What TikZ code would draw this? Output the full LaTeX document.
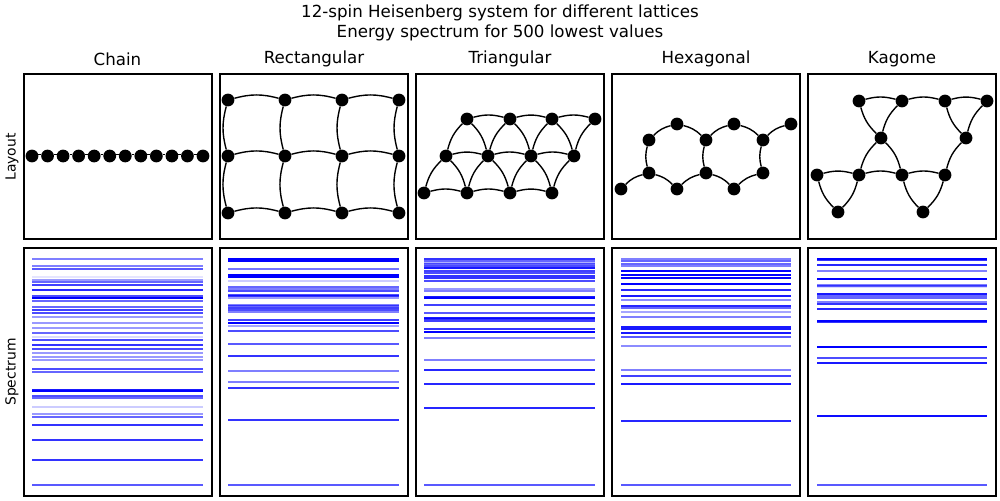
\documentclass[tikz,border=0pt]{standalone}
\usepackage{fontspec}
\setmainfont{DejaVu Sans}
\usetikzlibrary{positioning}
\definecolor{levelblue}{rgb}{0, 0, 1}

\tikzset{
	spin/.style={circle, fill=black, inner sep=0pt, minimum size=9.2pt},
	bond/.style={black, line width=1pt, bend left=15},
	panel/.style={draw=black, line width=0.8pt},
	level/.style={levelblue, line width=1.45pt},
	heading/.style={font=\fontsize{12}{14}\selectfont},
	rowlabel/.style={rotate=90, font=\fontsize{10}{12}\selectfont}
}

\begin{document}
\begin{tikzpicture}[x=0.72pt, y=-0.72pt]
		\useasboundingbox (0,0) rectangle (1000,500);
		
		\node[heading] (sup1) at (500,13) {12-spin Heisenberg system for different lattices};
		\node[heading] (sup2) at (500,33) {Energy spectrum for 500 lowest values};
		
		\node[heading] (tchain) at (117.5,59) {Chain};
		\node[heading] (trect) at (314,59) {Rectangular};
		\node[heading] (ttri) at (510,59) {Triangular};
		\node[heading] (thex) at (706,59) {Hexagonal};
		\node[heading] (tkag) at (902,59) {Kagome};
		
		\node[rowlabel] (llayout) at (12,157) {Layout};
		\node[rowlabel] (lspec) at (12,372) {Spectrum};
		
		\foreach \x in {24,220,416,612,808}{
			\draw[panel] (\x,74) rectangle ++(188,165);
			\draw[panel] (\x,248) rectangle ++(188,248);
		}
		
		% chain
		\foreach \i in {1,...,12}
			\node[spin] (c\i) at ({32+(\i-1)*15.545},156) {};
		\foreach \i [evaluate=\i as \j using int(\i+1)] in {1,...,11}
			\draw[bond] (c\i) to (c\j);
		
		% rectangular
		\foreach \c/\x in {1/228,2/285,3/342,4/399}
			\foreach \r/\y in {1/100,2/156,3/213}
				\node[spin] (r\c\r) at (\x,\y) {};
		\foreach \r in {1,2,3}
			\foreach \c/\d in {1/2,2/3,3/4}
				\draw[bond] (r\c\r) to (r\d\r);
		\foreach \c in {1,2,3,4}{
			\draw[bond] (r\c3) to (r\c2);
			\draw[bond] (r\c2) to (r\c1);
		}
		
		% triangular
		\foreach \i/\x in {1/467,2/510,3/552,4/595}
			\node[spin] (ta\i) at (\x,119) {};
		\foreach \i/\x in {1/446,2/488,3/531,4/574}
			\node[spin] (tb\i) at (\x,156) {};
		\foreach \i/\x in {1/424,2/467,3/510,4/552}
			\node[spin] (tc\i) at (\x,193) {};
		\foreach \i/\j in {1/2,2/3,3/4}{
			\draw[bond] (ta\i) to (ta\j);
			\draw[bond] (tb\i) to (tb\j);
			\draw[bond] (tc\i) to (tc\j);
			\draw[bond] (ta\i) to (tb\j);
			\draw[bond] (tb\i) to (tc\j);
		}
		\foreach \i in {1,...,4}{
			\draw[bond] (tc\i) to (tb\i);
			\draw[bond] (tb\i) to (ta\i);
		}
		
		% hexagonal
		\node[spin] (h1) at (621,189) {};
		\node[spin] (h2) at (649,173) {};
		\node[spin] (h3) at (649,140) {};
		\node[spin] (h4) at (677,124) {};
		\node[spin] (h5) at (706,140) {};
		\node[spin] (h6) at (706,173) {};
		\node[spin] (h7) at (677,189) {};
		\node[spin] (h8) at (734,124) {};
		\node[spin] (h9) at (763,140) {};
		\node[spin] (h10) at (763,173) {};
		\node[spin] (h11) at (734,189) {};
		\node[spin] (h12) at (791,124) {};
		\foreach \a/\b in {h1/h2,h2/h3,h3/h4,h4/h5,h6/h5,h7/h6,h2/h7,h5/h8,h8/h9,h9/h12,h10/h9,h11/h10,h6/h11}
			\draw[bond] (\a) to (\b);
		
		% kagome
		\node[spin] (ka1) at (859,101) {};
		\node[spin] (ka2) at (902,101) {};
		\node[spin] (ka3) at (945,101) {};
		\node[spin] (ka4) at (987,101) {};
		\node[spin] (kb1) at (881,138) {};
		\node[spin] (kb2) at (966,138) {};
		\node[spin] (kc1) at (817,175) {};
		\node[spin] (kc2) at (859,175) {};
		\node[spin] (kc3) at (902,175) {};
		\node[spin] (kc4) at (945,175) {};
		\node[spin] (kd1) at (838,212) {};
		\node[spin] (kd2) at (923,212) {};
		\foreach \a/\b in {ka1/ka2,ka2/ka3,ka3/ka4,kc1/kc2,kc2/kc3,kc3/kc4,kb1/ka1,kb1/ka2,kb2/ka3,kb2/ka4,kc2/kb1,kb1/kc3,kc4/kb2,kd1/kc1,kc2/kd1,kd2/kc3,kc4/kd2}
			\draw[bond] (\a) to (\b);
		
		% spectra
		\foreach \y/\o in {259/.5,265.7/.5,268.7/.65,277/.1,279.7/.4,281.7/.6,284.7/.75,289.7/.85,295.7/.7,297.7/1,300.7/.6,306.7/.6,309.7/.75,312.7/.7,316.7/.4,322.7/.4,327.7/.4,332.7/.6,336.7/.15,339.7/.7,344.7/.8,348.7/.7,352.7/.4,356.7/.4,359.7/.4,368.7/.7,371.7/.6,389.7/.9,391.3/1,395.7/.7,397.7/.6,406.7/.2,413.7/.4,416.7/.6,425/.8,439.7/.8,459.7/.8,484.7/.65}
			\draw[level, draw opacity=\o] (32,\y) -- (203,\y);
		\foreach \y/\o in {259/1,260.5/1,269/.55,275.3/1,276.7/1,280.7/.2,286.7/.6,289.3/.5,290.7/.7,295/.7,296.3/.8,297.7/.4,304.7/.5,306/.6,308.3/.75,310.3/.7,312.3/.5,319.7/.75,322.7/1,325.7/.35,331/.7,343.7/.65,355.7/.8,370.7/.5,381.7/.5,387.7/.8,419.7/.8,484.7/.65}
			\draw[level, draw opacity=\o] (228,\y) -- (399,\y);
		\foreach \y/\o in {259/.8,260.7/.6,262.7/.3,264.3/.6,265.7/.7,267.7/.9,271/.75,273/.7,276/.8,277.7/.8,280.7/.7,288.7/.4,290.7/.5,296.7/.9,297.7/1,304.7/.75,312.7/.65,317.7/.9,319/.8,321/.75,328.7/.8,331.7/1,337.7/.5,359.7/.5,370/.85,383.7/.85,407.7/.85,484.7/.65}
			\draw[level, draw opacity=\o] (424,\y) -- (595,\y);
		\foreach \y/\o in {258.7/.5,260.7/.6,263.7/.6,265.7/.5,270.7/1,274.7/1,277.7/1,283.7/1,289.7/.85,295.7/.9,299.7/.45,305.7/.85,307.7/.6,311.7/.35,316.7/.5,326.7/.9,328.7/.9,333/.9,336.7/.65,345.7/.45,369.7/.5,375.7/.75,383.7/.9,420.7/.85,484.7/.65}
			\draw[level, draw opacity=\o] (621,\y) -- (791,\y);
		\foreach \y/\o in {259/1,260.3/.8,265.3/.85,270.7/.5,278.7/1,284.7/.5,286/.6,287.3/.15,293.7/.9,296.3/.6,297.7/.6,302.3/.5,303.7/.8,308.7/.85,320.7/1,322/.8,346.7/1,357.7/.7,362.7/.9,415.7/.95,484.7/.65}
			\draw[level, draw opacity=\o] (817,\y) -- (987,\y);
		
\end{tikzpicture}
\end{document}
